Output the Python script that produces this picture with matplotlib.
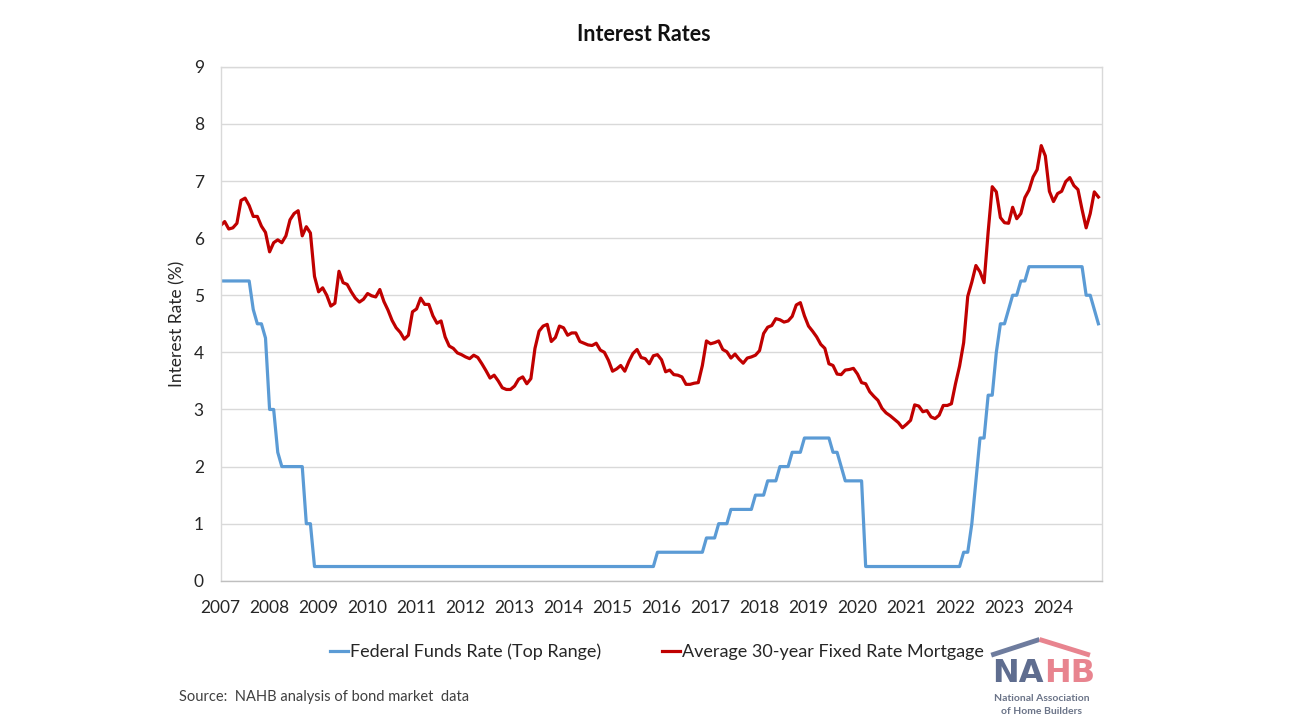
import numpy as np
import matplotlib.pyplot as plt

plt.rcParams['font.family'] = ['Lato', 'DejaVu Sans']

# Monthly data, Jan 2007 - Dec 2024
years = list(range(2007, 2025))

fed_funds = [
    # 2007
    5.25, 5.25, 5.25, 5.25, 5.25, 5.25, 5.25, 5.25, 4.75, 4.50, 4.50, 4.25,
    # 2008
    3.00, 3.00, 2.25, 2.00, 2.00, 2.00, 2.00, 2.00, 2.00, 1.00, 1.00, 0.25,
    # 2009
    0.25, 0.25, 0.25, 0.25, 0.25, 0.25, 0.25, 0.25, 0.25, 0.25, 0.25, 0.25,
    # 2010
    0.25, 0.25, 0.25, 0.25, 0.25, 0.25, 0.25, 0.25, 0.25, 0.25, 0.25, 0.25,
    # 2011
    0.25, 0.25, 0.25, 0.25, 0.25, 0.25, 0.25, 0.25, 0.25, 0.25, 0.25, 0.25,
    # 2012
    0.25, 0.25, 0.25, 0.25, 0.25, 0.25, 0.25, 0.25, 0.25, 0.25, 0.25, 0.25,
    # 2013
    0.25, 0.25, 0.25, 0.25, 0.25, 0.25, 0.25, 0.25, 0.25, 0.25, 0.25, 0.25,
    # 2014
    0.25, 0.25, 0.25, 0.25, 0.25, 0.25, 0.25, 0.25, 0.25, 0.25, 0.25, 0.25,
    # 2015
    0.25, 0.25, 0.25, 0.25, 0.25, 0.25, 0.25, 0.25, 0.25, 0.25, 0.25, 0.50,
    # 2016
    0.50, 0.50, 0.50, 0.50, 0.50, 0.50, 0.50, 0.50, 0.50, 0.50, 0.50, 0.75,
    # 2017
    0.75, 0.75, 1.00, 1.00, 1.00, 1.25, 1.25, 1.25, 1.25, 1.25, 1.25, 1.50,
    # 2018
    1.50, 1.50, 1.75, 1.75, 1.75, 2.00, 2.00, 2.00, 2.25, 2.25, 2.25, 2.50,
    # 2019
    2.50, 2.50, 2.50, 2.50, 2.50, 2.50, 2.25, 2.25, 2.00, 1.75, 1.75, 1.75,
    # 2020
    1.75, 1.75, 0.25, 0.25, 0.25, 0.25, 0.25, 0.25, 0.25, 0.25, 0.25, 0.25,
    # 2021
    0.25, 0.25, 0.25, 0.25, 0.25, 0.25, 0.25, 0.25, 0.25, 0.25, 0.25, 0.25,
    # 2022
    0.25, 0.25, 0.50, 0.50, 1.00, 1.75, 2.50, 2.50, 3.25, 3.25, 4.00, 4.50,
    # 2023
    4.50, 4.75, 5.00, 5.00, 5.25, 5.25, 5.50, 5.50, 5.50, 5.50, 5.50, 5.50,
    # 2024
    5.50, 5.50, 5.50, 5.50, 5.50, 5.50, 5.50, 5.50, 5.00, 5.00, 4.75, 4.50,
]

mortgage = [
    # 2007
    6.22, 6.29, 6.16, 6.18, 6.26, 6.66, 6.70, 6.57, 6.38, 6.38, 6.21, 6.10,
    # 2008
    5.76, 5.92, 5.97, 5.92, 6.04, 6.32, 6.43, 6.48, 6.04, 6.20, 6.09, 5.33,
    # 2009
    5.06, 5.13, 5.00, 4.81, 4.86, 5.42, 5.22, 5.19, 5.06, 4.95, 4.88, 4.93,
    # 2010
    5.03, 4.99, 4.97, 5.10, 4.89, 4.74, 4.56, 4.43, 4.35, 4.23, 4.30, 4.71,
    # 2011
    4.76, 4.95, 4.84, 4.84, 4.64, 4.51, 4.55, 4.27, 4.11, 4.07, 3.99, 3.96,
    # 2012
    3.92, 3.89, 3.95, 3.91, 3.80, 3.68, 3.55, 3.60, 3.50, 3.38, 3.35, 3.35,
    # 2013
    3.41, 3.53, 3.57, 3.45, 3.54, 4.07, 4.37, 4.46, 4.49, 4.19, 4.26, 4.46,
    # 2014
    4.43, 4.30, 4.34, 4.34, 4.19, 4.16, 4.13, 4.12, 4.16, 4.04, 4.00, 3.86,
    # 2015
    3.67, 3.71, 3.77, 3.67, 3.84, 3.98, 4.05, 3.91, 3.89, 3.80, 3.94, 3.96,
    # 2016
    3.87, 3.66, 3.69, 3.61, 3.60, 3.57, 3.44, 3.44, 3.46, 3.47, 3.77, 4.20,
    # 2017
    4.15, 4.17, 4.20, 4.05, 4.01, 3.90, 3.97, 3.88, 3.81, 3.90, 3.92, 3.95,
    # 2018
    4.03, 4.33, 4.44, 4.47, 4.59, 4.57, 4.53, 4.55, 4.63, 4.83, 4.87, 4.64,
    # 2019
    4.46, 4.37, 4.27, 4.14, 4.07, 3.80, 3.77, 3.62, 3.61, 3.69, 3.70, 3.72,
    # 2020
    3.62, 3.47, 3.45, 3.31, 3.23, 3.16, 3.02, 2.94, 2.89, 2.83, 2.77, 2.68,
    # 2021
    2.74, 2.81, 3.08, 3.06, 2.96, 2.98, 2.87, 2.84, 2.90, 3.07, 3.07, 3.10,
    # 2022
    3.45, 3.76, 4.17, 4.98, 5.23, 5.52, 5.41, 5.22, 6.11, 6.90, 6.81, 6.36,
    # 2023
    6.27, 6.26, 6.54, 6.34, 6.43, 6.71, 6.84, 7.07, 7.20, 7.62, 7.44, 6.82,
    # 2024
    6.64, 6.78, 6.82, 6.99, 7.06, 6.92, 6.85, 6.50, 6.18, 6.43, 6.81, 6.72,
]

months = 2007 + np.arange(len(mortgage)) / 12.0

fig = plt.figure(figsize=(12.9, 7.26), dpi=100)
ax = fig.add_axes([0.171, 0.2, 0.683, 0.708])

ax.plot(months, fed_funds, color='#5B9BD5', lw=2.3, label='Federal Funds Rate (Top Range)')
ax.plot(months, mortgage, color='#C00000', lw=2.3, label='Average 30-year Fixed Rate Mortgage')

ax.set_xlim(2007, 2007 + 17 + 11.8 / 12)
ax.set_ylim(0, 9)
ax.set_yticks(range(0, 10))
ax.set_xticks(years)
ax.set_xticklabels([str(y) for y in years])
ax.tick_params(axis='both', length=0, labelsize=12.5, colors='#262626')
ax.tick_params(axis='x', pad=14)
ax.tick_params(axis='y', pad=12)
ax.grid(axis='y', color='#D9D9D9', lw=1)
ax.set_axisbelow(True)
for s in ax.spines.values():
    s.set_color('#D9D9D9')
    s.set_linewidth(1)
ax.spines['bottom'].set_color('#BFBFBF')

ax.set_ylabel('Interest Rate (%)', fontsize=12.5, color='#262626', labelpad=6)
fig.text(0.499, 0.953, 'Interest Rates', ha='center', va='center',
         fontsize=15.5, fontweight='bold', color='#111111')

ax.legend(loc='upper center', bbox_to_anchor=(0.495, -0.09), ncol=2, frameon=False,
          fontsize=13, handlelength=1.0, handletextpad=0.1, columnspacing=3.4,
          labelcolor='#262626')

fig.text(0.139, 0.04, 'Source:  NAHB analysis of bond market  data', fontsize=10.5,
         color='#404040', va='center')

# NAHB logo
lx = fig.add_axes([0.765, 0.01, 0.085, 0.12])
lx.set_xlim(0, 100)
lx.set_ylim(0, 100)
lx.axis('off')
lx.plot([4, 48], [73, 91], color='#6E7C9E', lw=3.5, solid_capstyle='butt')
lx.plot([48, 94], [91, 73], color='#E8848F', lw=3.5, solid_capstyle='butt')
lx.text(52, 52, 'NA', ha='right', va='center', fontsize=23, fontweight='bold',
        family='DejaVu Sans', color='#5F6D8F')
lx.text(52, 52, 'HB', ha='left', va='center', fontsize=23, fontweight='bold',
        family='DejaVu Sans', color='#E8848F')
lx.text(50, 23, 'National Association', ha='center', va='center', fontsize=7.5,
        fontweight='bold', color='#6B7488')
lx.text(50, 8, 'of Home Builders', ha='center', va='center', fontsize=7.5,
        fontweight='bold', color='#6B7488')

fig.savefig('out.png', dpi=100)
